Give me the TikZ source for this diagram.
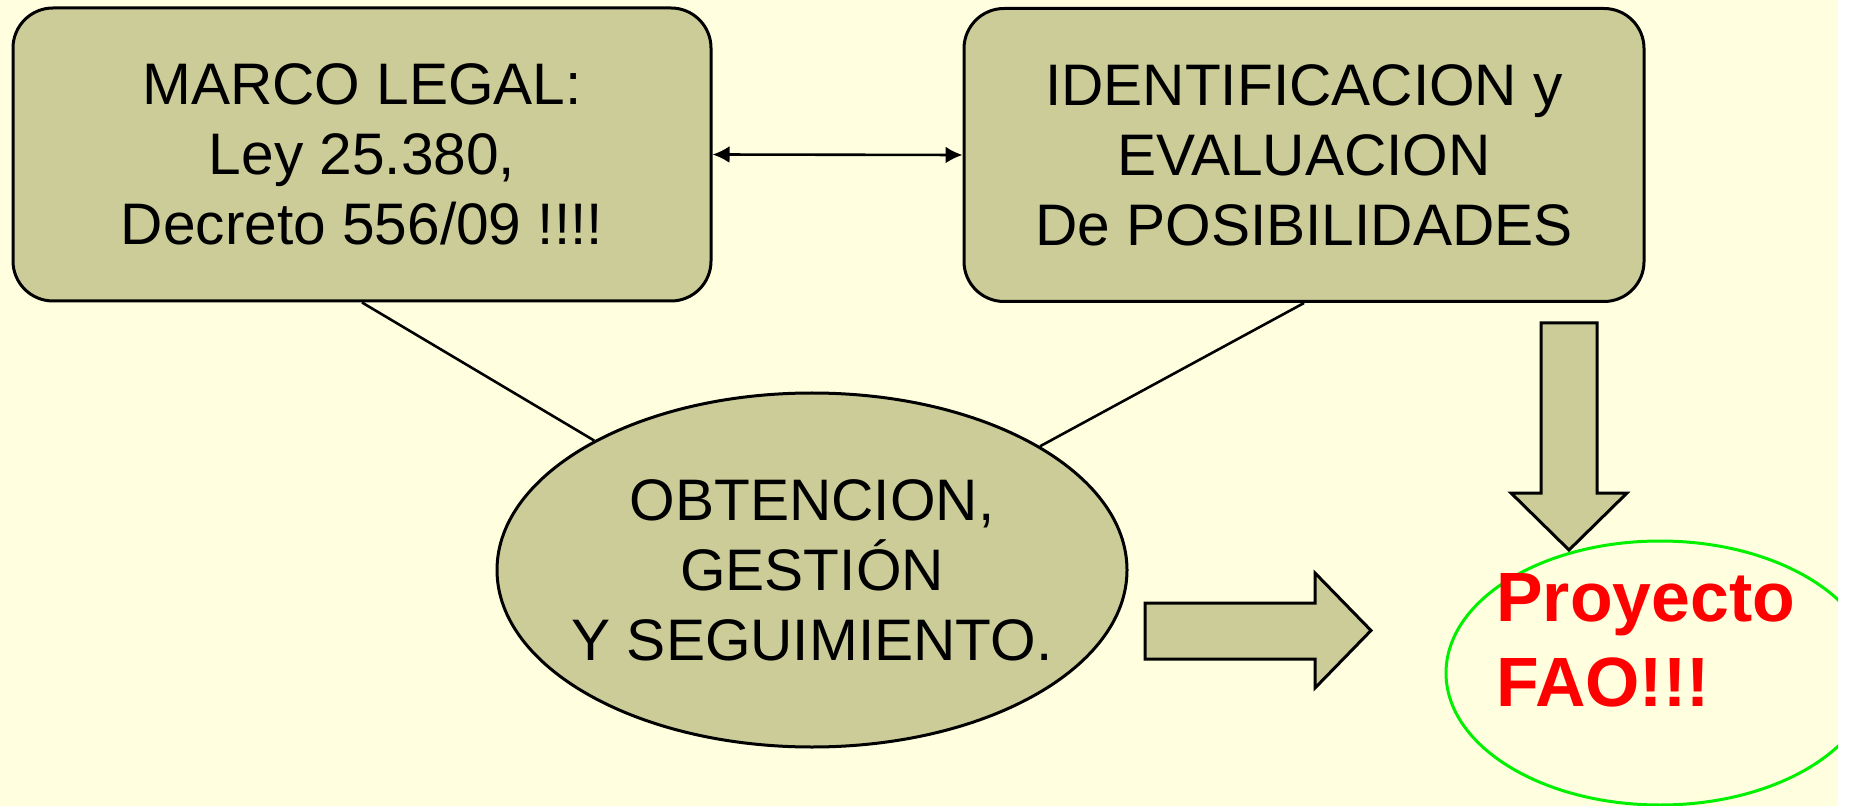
\documentclass[tikz,border=0pt]{standalone}
\usepackage{fontspec}
\setmainfont{Liberation Sans}
\usetikzlibrary{shapes.geometric, arrows.meta}
\definecolor{slidebg}{RGB}{255,255,224}
\definecolor{boxfill}{RGB}{204,204,153}
\definecolor{ringgreen}{RGB}{0,240,0}

\begin{document}
\begin{tikzpicture}[x=0.5pt, y=-0.5pt, line join=miter,
box/.style = {rectangle, rounded corners=20pt, draw, line width=1.5pt, fill=boxfill,
  minimum height=146.5pt, inner sep=0pt, align=center,
  font=\fontsize{29.3}{35}\selectfont},
blob/.style = {ellipse, draw, line width=1.5pt, fill=boxfill, minimum width=315pt,
  minimum height=177pt, inner xsep=-15pt, inner ysep=0pt, align=center,
  font=\fontsize{29.3}{35}\selectfont},
faoring/.style = {ellipse, draw=ringgreen, line width=1.5pt, minimum width=214pt,
  minimum height=132pt, inner sep=0pt},
faotext/.style = {text=red, inner sep=0pt, align=left,
  font=\bfseries\fontsize{34.9}{42.5}\selectfont},
link/.style = {line width=1.3pt},
blockarrow/.style = {draw, line width=1.5pt, fill=boxfill}]
\useasboundingbox (0,0) rectangle (1850,806);
\fill[white] (0,0) rectangle (1850,806);
\fill[slidebg] (0,0) rectangle (1838,806);

\node[box, minimum width=349pt] (marco) at (362,154.5) {MARCO LEGAL:\\Ley 25.380,\\Decreto 556/09 !!!!};
\node[box, minimum width=340pt] (ident) at (1304,155) {IDENTIFICACION y\\EVALUACION\\De POSIBILIDADES};
\node[blob] (obt) at (812,570) {OBTENCION,\\GESTIÓN\\Y SEGUIMIENTO.};

\draw[link, {Latex[length=8.5pt,width=8.5pt]}-{Latex[length=8.5pt,width=8.5pt]}]
  (marco.east) -- (ident.west);
\draw[link] (marco.south) -- (obt);
\draw[link] (ident.south) -- (obt);

% block arrows
\draw[blockarrow] (1145,603) -- (1315,603) -- (1315,573) -- (1371,630.5)
  -- (1315,688) -- (1315,659) -- (1145,659) -- cycle;
\draw[blockarrow] (1541,323) -- (1597,323) -- (1597,493) -- (1627,493)
  -- (1569,550) -- (1511,493) -- (1541,493) -- cycle;

\begin{scope}
\clip (0,0) rectangle (1838,806);
\node[faoring] (fao) at (1660,673) {};
\end{scope}
\node[faotext, anchor=west] (faotxt) at (1496,640.5) {Proyecto\\FAO!!!};
\end{tikzpicture}
\end{document}
